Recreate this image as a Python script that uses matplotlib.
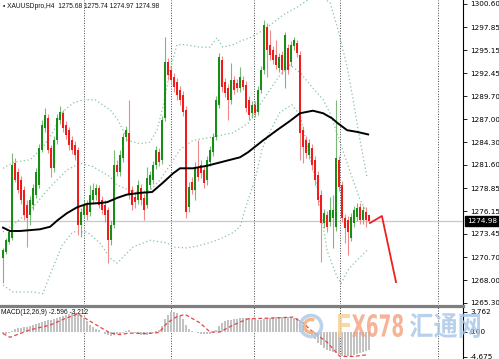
import numpy as np
import matplotlib
matplotlib.use('Agg')
import matplotlib.pyplot as plt
from matplotlib.textpath import TextPath
from matplotlib.patches import PathPatch, Circle, Arc
from matplotlib.font_manager import FontProperties
from matplotlib.transforms import Affine2D
from matplotlib.lines import Line2D

# ---- XAUUSDpro H4 candles ----
opens = [1270.6, 1271.3, 1272.5, 1273.0, 1281.8, 1280.8, 1279.8, 1278.6, 1276.9, 1275.7,
         1276.9, 1278.1, 1279.2, 1283.4, 1286.0, 1287.1, 1283.6, 1281.2, 1284.5, 1286.9,
         1287.7, 1286.3, 1285.7, 1284.5, 1284.0, 1283.4, 1274.5, 1275.7, 1276.9, 1276.0,
         1277.5, 1278.1, 1278.9, 1277.5, 1276.9, 1276.3, 1272.7, 1274.5, 1281.6, 1280.8,
         1282.4, 1284.9, 1285.4, 1278.6, 1277.8, 1277.5, 1278.9, 1277.7, 1276.9, 1279.2,
         1279.8, 1281.6, 1283.1, 1282.2, 1287.1, 1293.8, 1292.8, 1292.0, 1291.4, 1290.4,
         1289.9, 1288.1, 1276.6, 1279.6, 1278.6, 1281.4, 1281.6, 1281.0, 1279.8, 1281.9,
         1283.1, 1284.9, 1288.7, 1294.0, 1291.4, 1290.7, 1289.3, 1291.6, 1291.3, 1290.7,
         1291.6, 1291.0, 1289.3, 1287.7, 1288.7, 1287.8, 1290.4, 1292.8, 1297.9, 1295.8,
         1295.2, 1294.6, 1293.0, 1294.6, 1292.8, 1295.4, 1293.8, 1295.6, 1296.0, 1294.6,
         1285.7, 1284.5, 1282.8, 1283.6, 1282.2, 1280.4, 1278.1, 1274.7, 1275.7, 1274.9,
         1275.3, 1274.3, 1282.2, 1279.2, 1275.3, 1275.1, 1273.0, 1274.7, 1275.5, 1276.6,
         1275.1, 1276.0, 1275.68]
highs = [1271.8, 1273.0, 1273.9, 1283.0, 1282.4, 1281.2, 1280.3, 1279.1, 1277.5, 1277.9,
         1279.3, 1281.2, 1284.1, 1286.9, 1288.3, 1287.6, 1284.0, 1285.0, 1287.6, 1288.6,
         1288.1, 1286.8, 1286.1, 1285.0, 1284.4, 1283.7, 1276.5, 1277.5, 1277.5, 1279.2,
         1279.5, 1279.3, 1279.2, 1277.9, 1277.5, 1276.6, 1275.1, 1283.4, 1282.2, 1283.4,
         1285.4, 1286.2, 1289.3, 1279.1, 1278.4, 1279.8, 1279.3, 1278.2, 1281.4, 1280.9,
         1282.1, 1283.8, 1283.6, 1287.4, 1296.7, 1294.2, 1293.3, 1292.5, 1291.9, 1290.9,
         1290.3, 1288.6, 1279.6, 1280.2, 1282.0, 1284.5, 1282.2, 1281.5, 1282.7, 1283.8,
         1285.4, 1289.7, 1294.8, 1294.5, 1291.9, 1291.2, 1293.6, 1292.1, 1291.7, 1293.2,
         1292.1, 1291.5, 1289.7, 1289.1, 1289.1, 1290.9, 1293.3, 1298.7, 1298.4, 1297.5,
         1295.6, 1296.4, 1294.8, 1295.1, 1297.3, 1295.9, 1296.2, 1296.7, 1296.4, 1295.1,
         1286.2, 1285.0, 1284.7, 1284.1, 1282.7, 1280.9, 1278.6, 1276.4, 1276.2, 1277.8,
         1278.1, 1289.3, 1282.7, 1279.7, 1275.8, 1275.6, 1275.9, 1276.7, 1277.1, 1277.1,
         1276.7, 1276.6, 1275.74]
lows = [1267.7, 1271.1, 1272.3, 1272.7, 1279.6, 1278.3, 1277.0, 1275.1, 1271.9, 1274.5,
        1276.3, 1277.7, 1278.9, 1283.1, 1285.5, 1283.0, 1280.2, 1280.8, 1284.1, 1286.4,
        1285.5, 1284.7, 1283.4, 1282.9, 1282.2, 1273.3, 1273.1, 1275.3, 1275.1, 1275.6,
        1277.0, 1277.5, 1276.5, 1275.8, 1274.9, 1270.0, 1272.1, 1274.2, 1280.3, 1280.3,
        1282.0, 1284.4, 1277.6, 1276.3, 1276.5, 1277.0, 1276.9, 1275.1, 1276.5, 1278.8,
        1279.3, 1281.1, 1281.5, 1281.7, 1286.8, 1291.6, 1291.0, 1290.2, 1289.3, 1288.7,
        1287.4, 1275.3, 1276.0, 1278.2, 1277.5, 1279.7, 1280.1, 1278.9, 1279.2, 1281.5,
        1282.7, 1284.5, 1288.3, 1290.2, 1289.6, 1286.9, 1288.8, 1290.0, 1290.2, 1290.2,
        1290.4, 1287.8, 1286.9, 1287.1, 1287.3, 1287.5, 1290.1, 1292.3, 1292.0, 1294.0,
        1293.5, 1292.9, 1292.6, 1292.3, 1290.7, 1292.3, 1293.3, 1295.2, 1294.3, 1282.2,
        1281.8, 1282.4, 1282.3, 1281.0, 1279.2, 1276.9, 1270.1, 1274.2, 1273.7, 1274.4,
        1271.8, 1273.8, 1278.5, 1274.9, 1272.4, 1271.0, 1272.6, 1274.3, 1275.0, 1274.6,
        1274.6, 1274.3, 1274.97]
closes = [1271.6, 1272.7, 1273.7, 1281.6, 1279.8, 1278.6, 1277.5, 1275.7, 1275.3, 1277.5,
          1278.9, 1280.8, 1283.6, 1286.3, 1287.5, 1283.4, 1281.2, 1284.5, 1287.1, 1287.8,
          1286.0, 1285.1, 1284.0, 1283.4, 1282.8, 1274.5, 1276.0, 1276.9, 1275.7, 1278.1,
          1278.6, 1278.9, 1276.9, 1276.3, 1275.7, 1272.7, 1274.5, 1281.6, 1280.8, 1282.8,
          1284.9, 1285.7, 1278.1, 1276.9, 1277.2, 1279.2, 1277.5, 1276.3, 1280.1, 1280.4,
          1281.6, 1283.4, 1282.0, 1286.9, 1293.8, 1292.2, 1291.6, 1290.8, 1289.9, 1289.3,
          1287.8, 1276.0, 1279.0, 1278.6, 1281.4, 1280.2, 1280.7, 1279.5, 1282.2, 1283.4,
          1284.9, 1289.3, 1294.3, 1290.8, 1290.1, 1289.3, 1291.6, 1290.4, 1290.7, 1292.0,
          1290.8, 1288.3, 1287.5, 1288.7, 1287.7, 1290.4, 1292.8, 1298.1, 1295.2, 1294.6,
          1294.0, 1293.4, 1294.3, 1292.8, 1296.9, 1292.8, 1295.8, 1296.4, 1294.8, 1285.4,
          1283.7, 1283.0, 1284.2, 1281.6, 1279.8, 1277.5, 1274.7, 1275.9, 1274.3, 1276.3,
          1276.3, 1282.4, 1279.0, 1275.3, 1274.2, 1273.7, 1275.5, 1276.3, 1276.5, 1275.1,
          1276.3, 1275.1, 1274.98]

# moving average (black)
ma_idx = [0, 2.3, 5.7, 9, 12.3, 15.7, 18.3, 21.3, 24.7, 28, 32.3, 34.7, 38, 41.3, 45.7,
          49.7, 53.3, 56.7, 59, 63.3, 68, 71.3, 75.7, 79, 81.7, 86.7, 91.3, 95.7, 99,
          103.3, 106.7, 109.7, 111.3, 114.7, 118, 121.7]
ma_val = [1274.2, 1273.8, 1273.8, 1273.9, 1274.0, 1274.3, 1275.1, 1275.9, 1276.6, 1277.0,
          1277.1, 1277.2, 1277.7, 1278.1, 1278.3, 1278.4, 1279.5, 1280.6, 1281.2, 1281.2,
          1281.5, 1281.8, 1282.2, 1282.5, 1283.1, 1284.5, 1285.7, 1286.8, 1287.7, 1288.0,
          1287.7, 1287.1, 1286.6, 1285.7, 1285.5, 1285.2]

# bollinger bands (dotted)
bb_up_idx = [0, 3.3, 9, 13.3, 16.7, 19.7, 23.3, 26.7, 30.7, 35.7, 38.3, 41.7, 45.7, 49,
             51.3, 53.3, 55.7, 58, 60.7, 65.7, 69, 71.3, 73.3, 76.7, 79.7, 82.3, 85.7, 89,
             93.3, 98, 101.7, 105.7, 109, 111.7, 114.7, 116.7, 119, 121.3]
bb_up_val = [1281.2, 1281.9, 1282.2, 1283.7, 1285.5, 1287.8, 1288.9, 1289.3, 1289.3, 1288.1,
             1286.9, 1284.5, 1284.1, 1284.3, 1285.7, 1288.4, 1292.8, 1295.8, 1295.8, 1295.5,
             1295.5, 1296.6, 1295.5, 1295.8, 1296.3, 1296.6, 1297.3, 1298.1, 1299.3, 1300.2,
             1301.1, 1301.4, 1300.8, 1297.5, 1293.2, 1289.3, 1284.5, 1280.2]
bb_mid_idx = [0, 3.3, 7.3, 10, 15.7, 21.3, 25.7, 30, 35.7, 38, 42.3, 45.7, 49, 52.3, 55.7,
              59, 63.3, 70, 76.7, 81.7, 86.7, 92.3, 95.7, 99, 103, 106.7, 109, 111.3,
              114.7, 119, 121.3]
bb_mid_val = [1273.7, 1274.5, 1275.7, 1276.6, 1279.0, 1281.0, 1281.8, 1281.4, 1280.2, 1279.2,
              1278.6, 1278.4, 1278.6, 1279.8, 1281.6, 1283.4, 1284.5, 1284.9, 1285.4, 1286.5,
              1289.3, 1292.2, 1293.4, 1292.5, 1290.8, 1289.3, 1287.7, 1285.4, 1281.8, 1277.5,
              1276.0]
bb_lo_idx = [0, 3.3, 10, 13.3, 16.3, 19.7, 23.3, 28, 32.3, 35.7, 38, 43.3, 49, 54.7, 56.7,
             61.3, 65.7, 71.3, 76.7, 79, 81.7, 84, 86.3, 88.3, 92.3, 96.3, 99, 101.7, 104.7,
             108, 111.3, 112.7, 115, 117.3, 121.3]
bb_lo_val = [1267.4, 1266.6, 1266.6, 1266.4, 1269.2, 1272.1, 1273.7, 1273.7, 1272.4, 1270.6,
             1270.0, 1271.9, 1272.7, 1272.4, 1271.9, 1271.8, 1272.1, 1272.7, 1273.6, 1274.3,
             1277.5, 1279.8, 1283.4, 1285.1, 1287.8, 1288.7, 1287.5, 1283.4, 1279.0, 1271.5,
             1268.4, 1267.6, 1269.2, 1270.1, 1271.5]

# hand-drawn forecast line
fc_idx = [122.3, 126.3, 131.0]
fc_val = [1274.74, 1275.57, 1267.77]

# MACD(12,26,9)
macd_hist = [-0.4, -0.3, -0.2, 0.2, 0.5, 0.7, 0.8, 0.9, 1.0, 1.1,
             1.3, 1.5, 1.7, 1.9, 2.1, 2.2, 2.3, 2.4, 2.6, 2.8,
             3.0, 3.2, 3.4, 3.5, 3.5, 3.4, 3.1, 2.6, 2.0, 1.4,
             1.0, 0.6, 0.3, 0.0, -0.3, -0.5, -0.7, -0.6, -0.4, -0.3,
             -0.1, 0.2, 0.3, 0.0, -0.2, -0.4, -0.5, -0.6, -0.5, -0.4,
             -0.2, 0.1, 0.4, 1.2, 2.4, 3.2, 3.7, 3.76, 3.5, 3.0,
             2.4, 1.3, 0.6, 0.2, 0.0, -0.2, -0.3, -0.4, -0.4, -0.3,
             -0.2, 0.4, 1.1, 1.6, 2.0, 2.2, 2.3, 2.4, 2.5, 2.6,
             2.7, 2.7, 2.6, 2.5, 2.4, 2.3, 2.3, 2.4, 2.6, 2.7,
             2.8, 2.8, 2.8, 2.9, 2.9, 2.8, 2.8, 2.7, 2.6, 2.3,
             1.4, 0.6, -0.2, -0.8, -1.4, -2.0, -2.5, -3.0, -3.3, -3.6,
             -3.8, -3.9, -4.2, -4.5, -4.675, -4.6, -4.5, -4.3, -4.1, -3.9,
             -3.7, -3.5, -3.4]
sig_idx = [0, 2.3, 9, 15.7, 21, 25, 30, 35.7, 39, 42, 48, 52, 54.7, 58, 60.7, 65.7, 69,
           72.3, 76.7, 81.7, 89, 96.7, 100, 103.3, 108, 112.3, 116.7, 121.3]
sig_val = [-0.3, -1.0, 0.4, 1.3, 2.6, 3.4, 1.7, -0.2, -0.5, -0.2, -0.3, -0.1, 1.7, 2.9,
           3.3, 1.7, 0.0, 0.0, 1.3, 2.5, 2.6, 2.8, 1.7, 0.0, -1.9, -4.6, -4.6, -4.3]

price_ticks = [1300.60, 1297.85, 1295.15, 1292.45, 1289.70, 1287.00, 1284.30, 1281.60,
               1278.85, 1276.15, 1273.45, 1270.70, 1268.00, 1265.30]
macd_ticks = [3.762, 0.0, -4.675]
macd_tick_labels = ['3.762', '0.00', '-4.675']
grid_x = [27, 56, 83.7, 112.3, 145]
last_price = 1274.98

W, H = 499, 359
fig = plt.figure(figsize=(W / 100, H / 100), dpi=100)
fig.patch.set_facecolor('white')


def box(l, t, r, b):
    return [l / W, 1 - b / H, (r - l) / W, (b - t) / H]


ax = fig.add_axes(box(0, 0, 463, 304))
macd = fig.add_axes(box(0, 307, 463, 359))

for a in (ax, macd):
    a.set_xlim(-1, 153.33)
    for s in ('top', 'left', 'bottom'):
        a.spines[s].set_visible(False)
    a.spines['right'].set_color('black')
    a.spines['right'].set_linewidth(0.8)
    a.yaxis.tick_right()
    a.set_xticks([])
    a.tick_params(axis='y', length=3, width=0.6, labelsize=5.2, pad=2, colors='black')
    for gx in grid_x:
        a.axvline(gx, color='#444444', lw=0.7, ls=(0, (1, 1.6)), zorder=1)

ax.set_ylim(1265.18, 1301.07)
ax.set_yticks(price_ticks)
ax.set_yticklabels(['%.2f' % v for v in price_ticks])

idx = np.arange(len(closes))
o = np.array(opens)
c = np.array(closes)
up = c >= o

ax.axhline(last_price, color='#c9c9c9', lw=0.9, zorder=1.5)

ax.plot(bb_up_idx, bb_up_val, color='#86c4a0', lw=0.9, ls=(0, (1, 2)), zorder=2)
ax.plot(bb_mid_idx, bb_mid_val, color='#86c4a0', lw=0.9, ls=(0, (1, 2)), zorder=2)
ax.plot(bb_lo_idx, bb_lo_val, color='#86c4a0', lw=0.9, ls=(0, (1, 2)), zorder=2)

wick_col = np.where(up, '#79b979', '#f08a8a')
ax.vlines(idx, lows, highs, colors=list(wick_col), lw=0.8, zorder=3)
body_bot = np.minimum(o, c)
body_h = np.maximum(np.abs(c - o), 0.15)
ax.bar(idx[up], body_h[up], bottom=body_bot[up], width=0.7, color='#178f17', lw=0, zorder=3.5)
ax.bar(idx[~up], body_h[~up], bottom=body_bot[~up], width=0.7, color='#f01c1c', lw=0, zorder=3.5)

ax.plot(ma_idx, ma_val, color='black', lw=1.4, zorder=4)
ax.plot(fc_idx, fc_val, color='#ee2020', lw=1.3, zorder=4)

ax.annotate('%.2f' % last_price, xy=(1.0, last_price), xycoords=('axes fraction', 'data'),
            xytext=(3, 0), textcoords='offset points', ha='left', va='center',
            fontsize=5.2, color='white',
            bbox=dict(boxstyle='square,pad=0.25', fc='black', ec='black'), annotation_clip=False)

fig.text(3 / W, 1 - 7 / H, '\u2022 XAUUSDpro,H4  1275.68 1275.74 1274.97 1274.98',
         fontsize=4.8, va='center', ha='left', family='Liberation Sans', color='#111111')

# MACD panel
macd.set_ylim(-5.08, 4.70)
macd.set_yticks(macd_ticks)
macd.set_yticklabels(macd_tick_labels)
macd.bar(idx, macd_hist, width=0.35, color='#c2c2c2', lw=0, zorder=2)
macd.plot(sig_idx, sig_val, color='#e04848', lw=0.9, ls=(0, (3, 2)), zorder=3)
fig.text(1 / W, 1 - 312 / H, 'MACD(12,26,9) -2.596 -3.212', fontsize=4.8, va='center',
         ha='left', family='Liberation Sans', color='#111111')

fig.add_artist(Line2D([0, 463 / W], [1 - 305.5 / H] * 2, transform=fig.transFigure,
                      color='#7f7f7f', lw=2.3))

# watermark
ov = fig.add_axes([0, 0, 1, 1], zorder=10)
ov.set_xlim(0, W)
ov.set_ylim(H, 0)
ov.axis('off')
ov.patch.set_alpha(0)


def path_text(s, x, y, w, h, color, prop, alpha=0.8):
    tp = TextPath((0, 0), s, size=1, prop=prop)
    bb = tp.get_extents()
    tr = Affine2D().translate(-bb.x0, -bb.y0).scale(w / bb.width, -h / bb.height) \
        .translate(x, y + h) + ov.transData
    ov.add_patch(PathPatch(tp, transform=tr, fc=color, lw=0, alpha=alpha))


bold = FontProperties(family='DejaVu Sans', weight='bold')
cjk = FontProperties(family='Noto Sans CJK SC', weight='bold')
path_text('F', 338, 314, 12, 23, '#f7cf8e', bold)
path_text('X678', 352, 314, 51, 23, '#f4a07f', bold)
path_text('\u6c47\u901a\u7f51', 410, 313, 70, 25, '#a5c5e6', cjk)
ov.add_patch(Circle((311, 326), 10.5, fill=False, ec='#b0cbe6', lw=2.6, alpha=0.85))
ov.add_patch(Arc((311, 326), 13, 13, theta1=60, theta2=300, color='#f2ad78', lw=2.4, alpha=0.85))

fig.savefig('out.png', dpi=100)
